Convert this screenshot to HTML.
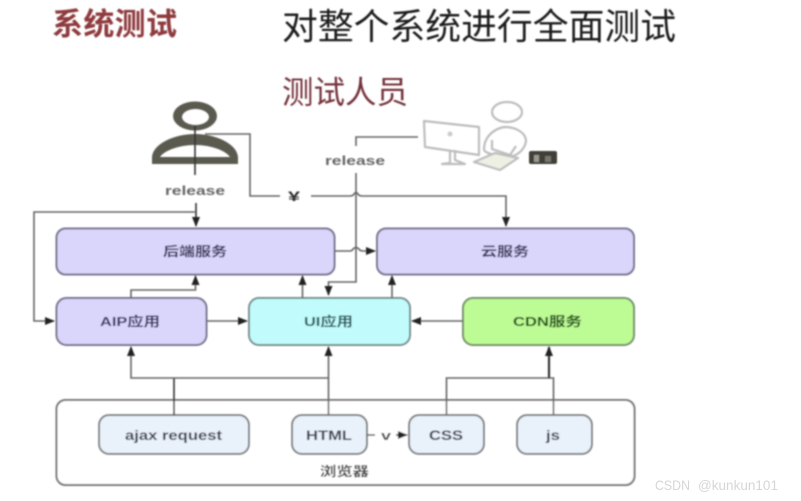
<!DOCTYPE html>
<html><head><meta charset="utf-8">
<style>
html,body{margin:0;padding:0;background:#fff;width:801px;height:501px;overflow:hidden}
svg{display:block}
text{font-family:"Liberation Sans","Noto Sans CJK SC",sans-serif}
</style></head>
<body>
<svg width="801" height="501" viewBox="0 0 801 501" xmlns="http://www.w3.org/2000/svg">
<defs>
<marker id="a" markerWidth="10" markerHeight="8" refX="9" refY="4" orient="auto" markerUnits="userSpaceOnUse"><path d="M0,0 L10,4 L0,8 Z" fill="#222"/></marker>
<filter id="b" x="-5%" y="-5%" width="110%" height="110%"><feGaussianBlur stdDeviation="0.75"/></filter>
</defs>
<rect width="801" height="501" fill="#fff"/>
<g filter="url(#b)">
<text x="52" y="35" font-size="31" font-weight="bold" fill="#8e3a3c" textLength="125">系统测试</text>
<text x="282" y="39" font-size="35.8" fill="#1c1c1c" textLength="394">对整个系统进行全面测试</text>
<text x="282" y="103" font-size="31.5" fill="#74303a" textLength="126">测试人员</text>

<!-- boxes -->
<rect x="56.5" y="228.5" width="278" height="46" rx="9" fill="#d9d5fb" stroke="#77758e" stroke-width="2"/>
<rect x="377" y="228.5" width="257" height="46" rx="9" fill="#d9d5fb" stroke="#77758e" stroke-width="2"/>
<rect x="56.5" y="298" width="150" height="47" rx="10" fill="#d9d5fb" stroke="#77758e" stroke-width="2"/>
<rect x="249" y="298" width="161" height="47" rx="10" fill="#c2fbfb" stroke="#76908f" stroke-width="2"/>
<rect x="463" y="298" width="171" height="47" rx="10" fill="#bdfb95" stroke="#74906a" stroke-width="2"/>
<rect x="56.5" y="400" width="578" height="85" rx="9" fill="#fff" stroke="#777" stroke-width="2"/>
<rect x="99" y="415" width="150" height="39" rx="10" fill="#e9f1fb" stroke="#7b7f80" stroke-width="2"/>
<rect x="292" y="415" width="75" height="39" rx="10" fill="#e9f1fb" stroke="#7b7f80" stroke-width="2"/>
<rect x="409" y="415" width="75" height="39" rx="10" fill="#e9f1fb" stroke="#7b7f80" stroke-width="2"/>
<rect x="517" y="415" width="75" height="39" rx="10" fill="#e9f1fb" stroke="#7b7f80" stroke-width="2"/>

<!-- connectors -->
<g fill="none" stroke="#666" stroke-width="1.6">
<path d="M196 203V226" stroke="#333" marker-end="url(#a)"/>
<path d="M195 212H34V321H54" marker-end="url(#a)"/>
<path d="M205 134H250V196H280"/>
<path d="M311 196H350Q353 196 354 194Q356 191 358 194Q359 196 362 196H506V226" marker-end="url(#a)"/>
<path d="M356 146V137H418"/>
<path d="M356 173V282H328.500V295" marker-end="url(#a)"/>
<path d="M335 251H350Q352 251 353 249Q356 246 359 249Q360 251 363 251H375" marker-end="url(#a)"/>
<path d="M131 298V290H195.500V276" marker-end="url(#a)"/>
<path d="M302.500 298V276" marker-end="url(#a)"/>
<path d="M392 298V276" marker-end="url(#a)"/>
<path d="M207 321H247" marker-end="url(#a)"/>
<path d="M463 321H412" marker-end="url(#a)"/>
<path d="M174 415V378" stroke="#333"/>
<path d="M174 378H131V347" marker-end="url(#a)"/>
<path d="M174 378H328"/>
<path d="M328.500 415V347" marker-end="url(#a)"/>
<path d="M446.500 415V378H553.500V415"/>
<path d="M549 378V347" stroke="#333" stroke-width="2.200" marker-end="url(#a)"/>
<path d="M367 435H375"/>
<path d="M396 435H407" stroke="#333" marker-end="url(#a)"/>
</g>

<!-- person icon -->
<path fill="#5a5a50" fill-rule="evenodd" d="M173 116A22 14.500 0 1 0 217 116A22 14.500 0 1 0 173 116ZM182 117A13.500 8 0 1 1 209 117A13.500 8 0 1 1 182 117Z"/>
<path fill="#5a5a50" fill-rule="evenodd" d="M152 164V157C153 144 174 134 195 134C216 134 237 144 238 157V164ZM160 157H230C226 151 212 145 195 145C178 145 164 151 160 157Z"/>
<path d="M195 126V175" stroke="#333" stroke-width="1.600"/>

<!-- tester icon -->
<g fill="none" stroke="#bdbdbd" stroke-width="2.200" stroke-linejoin="round">
<ellipse cx="507" cy="112" rx="15" ry="10"/>
<path d="M424 121L479 127V155L425 147Z"/>
<path d="M450 150V163L442 164H465L455 160V150"/>
<path d="M504 127C490 130 484 140 484 149C484 153 492 154 497 156H513C522 153 526 145 526 140C525 133 517 127 504 127Z"/>
<path d="M492 140V149L510 155L516 146"/>
<path d="M474 162L500 170L518 158L495 153Z" fill="#eef0e4"/>
</g>
<circle cx="450" cy="134" r="2.500" fill="#ccc"/>
<rect x="529" y="151" width="28" height="13" rx="2" fill="#3f4038"/>
<rect x="534" y="155" width="5" height="7" fill="#9a9a90"/>
<rect x="545" y="156" width="6" height="6" fill="#77776e"/>

<!-- labels -->
<g fill="#333" font-weight="bold">
<text x="165" y="195" font-size="13" fill="#666" textLength="60" lengthAdjust="spacingAndGlyphs">release</text>
<text x="325" y="165" font-size="13" fill="#666" textLength="60" lengthAdjust="spacingAndGlyphs">release</text>
<text x="288" y="201" font-size="14" fill="#333" textLength="12" lengthAdjust="spacingAndGlyphs">¥</text>
<text x="381" y="440" font-size="13" fill="#444" textLength="10" lengthAdjust="spacingAndGlyphs">v</text>
<text x="163" y="256" font-size="13" fill="#34325a" textLength="64" lengthAdjust="spacingAndGlyphs">后端服务</text>
<text x="481" y="256" font-size="13" fill="#34325a" textLength="48" lengthAdjust="spacingAndGlyphs">云服务</text>
<text x="100" y="326" font-size="13" fill="#33325e" textLength="60" lengthAdjust="spacingAndGlyphs">AIP应用</text>
<text x="304" y="326" font-size="13" fill="#22585a" textLength="49" lengthAdjust="spacingAndGlyphs">UI应用</text>
<text x="513" y="326" font-size="13" fill="#1f4d12" textLength="69" lengthAdjust="spacingAndGlyphs">CDN服务</text>
<text x="125" y="440" font-size="13.500" fill="#3a3f4a" textLength="97" lengthAdjust="spacingAndGlyphs">ajax request</text>
<text x="306" y="440" font-size="13.500" fill="#3a3f4a" textLength="46" lengthAdjust="spacingAndGlyphs">HTML</text>
<text x="429" y="440" font-size="13.500" fill="#3a3f4a" textLength="34" lengthAdjust="spacingAndGlyphs">CSS</text>
<text x="546" y="440" font-size="13.500" fill="#3a3f4a" textLength="14" lengthAdjust="spacingAndGlyphs">js</text>
<text x="320" y="476" font-size="13" fill="#444" textLength="49" lengthAdjust="spacingAndGlyphs">浏览器</text>
</g>
</g>
<text x="655" y="490" font-size="14" fill="#d6d6d6" textLength="35" lengthAdjust="spacingAndGlyphs">CSDN</text>
<text x="698" y="490" font-size="14" fill="#d6d6d6" textLength="80" lengthAdjust="spacingAndGlyphs">@kunkun101</text>
</svg>
</body></html>
